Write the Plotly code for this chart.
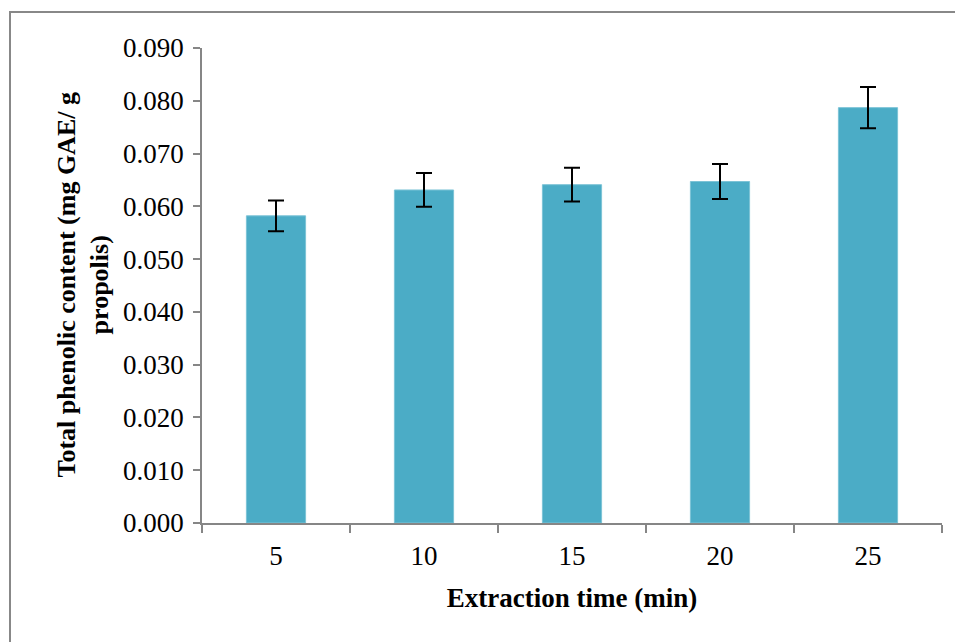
import plotly.graph_objects as go

# Data
extraction_time = ["5", "10", "15", "20", "25"]
phenolic_content = [0.0582, 0.0631, 0.0641, 0.0647, 0.0787]
error_values = [0.0029, 0.0032, 0.0032, 0.0033, 0.0039]
y_tick_values = [0.0, 0.01, 0.02, 0.03, 0.04, 0.05, 0.06, 0.07, 0.08, 0.09]

FONT = "Liberation Serif, Times New Roman, serif"
AXIS_COLOR = "#868686"

fig = go.Figure()
fig.add_trace(go.Bar(
    x=extraction_time,
    y=phenolic_content,
    width=0.4,
    marker=dict(color="#4BACC6", line=dict(color="#7cc3d6", width=1)),
    error_y=dict(type="data", array=error_values, visible=True,
                 color="black", thickness=2, width=8),
    showlegend=False,
))

# page body has an 8px margin: plot box in screen coords
OFF = 8
PL, PR, PT, PB = 202, 942, 48, 523
W, H = 963, 642
pw, ph = PR - PL, PB - PT


def px(sx):
    return (sx - PL) / pw


def py(sy):
    return (PB - sy) / ph


fig.update_layout(
    width=W, height=H,
    margin=dict(l=PL - OFF, r=W + OFF - PR, t=PT - OFF, b=H + OFF - PB),
    plot_bgcolor="white", paper_bgcolor="white",
    font=dict(family=FONT, size=27, color="black"),
    xaxis=dict(
        type="category",
        showline=True, linecolor=AXIS_COLOR, linewidth=1.5,
        ticks="outside", tickson="boundaries", ticklen=8,
        tickcolor=AXIS_COLOR, tickwidth=1.5,
        showgrid=False, zeroline=False,
        ticklabelstandoff=8,
        tickfont=dict(family=FONT, size=27, color="black"),
        title=dict(text="<b>Extraction time (min)</b>",
                   font=dict(family=FONT, size=27, color="black"),
                   standoff=18),
    ),
    yaxis=dict(
        range=[0, 0.09],
        tickvals=y_tick_values,
        tickformat=".3f",
        showline=True, linecolor=AXIS_COLOR, linewidth=1.5,
        ticks="outside", ticklen=7, tickcolor=AXIS_COLOR, tickwidth=1.5,
        showgrid=False, zeroline=False,
        ticklabelstandoff=4,
        tickfont=dict(family=FONT, size=27, color="black"),
    ),
    annotations=[dict(
        text="<b>Total phenolic content (mg GAE/ g<br>propolis)</b>",
        textangle=-90,
        xref="paper", yref="paper",
        x=px(83), y=0.5,
        xanchor="center", yanchor="middle",
        showarrow=False,
        font=dict(family=FONT, size=26, color="black"),
    )],
    shapes=[dict(
        type="rect", xref="paper", yref="paper",
        x0=px(10), x1=px(1000),
        y0=py(700), y1=py(12),
        line=dict(color="#888888", width=2),
        fillcolor="rgba(0,0,0,0)",
        layer="below",
    )],
)

fig.write_html("out.html")
